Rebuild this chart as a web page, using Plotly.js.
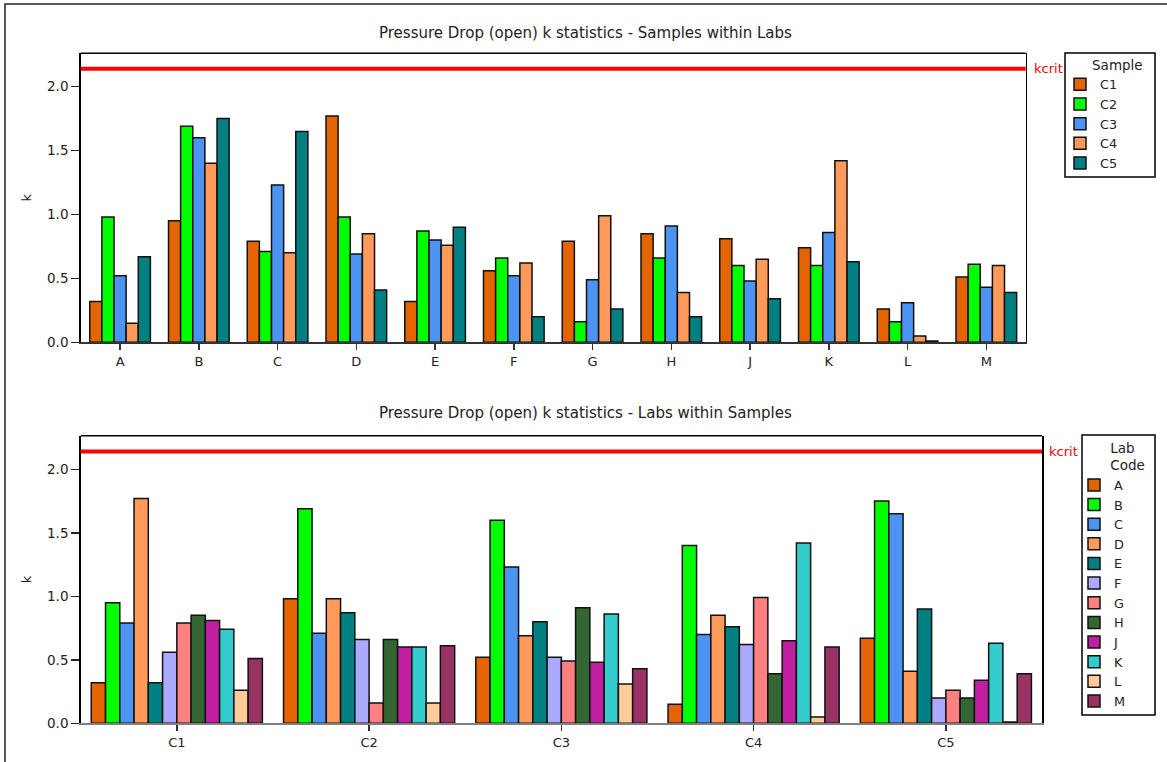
<!DOCTYPE html>
<html><head><meta charset="utf-8">
<script src="https://cdn.plot.ly/plotly-3.0.1.min.js"></script>
<style>body{margin:0;background:#fff}</style>
</head><body><div id="chart" style="width:1167px;height:762px"></div>
<script>
const labs = ['A','B','C','D','E','F','G','H','J','K','L','M'];
const samples = ['C1','C2','C3','C4','C5'];
const kC1 = [0.32,0.95,0.79,1.77,0.32,0.56,0.79,0.85,0.81,0.74,0.26,0.51];
const kC2 = [0.98,1.69,0.71,0.98,0.87,0.66,0.16,0.66,0.60,0.60,0.16,0.61];
const kC3 = [0.52,1.60,1.23,0.69,0.80,0.52,0.49,0.91,0.48,0.86,0.31,0.43];
const kC4 = [0.15,1.40,0.70,0.85,0.76,0.62,0.99,0.39,0.65,1.42,0.05,0.60];
const kC5 = [0.67,1.75,1.65,0.41,0.90,0.20,0.26,0.20,0.34,0.63,0.01,0.39];
const kcrit = 2.14;
const yTicks = [0, 0.5, 1.0, 1.5, 2.0];
const titleTop = 'Pressure Drop (open) k statistics - Samples within Labs';
const titleBottom = 'Pressure Drop (open) k statistics - Labs within Samples';
const legendTitleTop = 'Sample';
const legendTitleBottom = ['Lab','Code'];

const labColors = ['#E36400','#00FF00','#4D94F2','#FF9A5A','#008080','#AAAAFF','#FF8080','#336633','#C020A0','#33CCCC','#FFCC99','#993366'];
const sampleColors = labColors.slice(0,5);
const sampleVals = [kC1,kC2,kC3,kC4,kC5];

const FONT = 'DejaVu Sans, Verdana, sans-serif';
const traces = [];
const gTop = 0.77, gBot = 0.89;
samples.forEach((s,i)=>{
  const w = gTop/samples.length;
  traces.push({type:'bar', x:labs, y:sampleVals[i], name:s, xaxis:'x', yaxis:'y', legend:'legend',
    width:w, offset:-gTop/2 + i*w,
    marker:{color:sampleColors[i], line:{color:'#111', width:1.5}}});
});
labs.forEach((l,j)=>{
  const w = gBot/labs.length;
  traces.push({type:'bar', x:samples, y:sampleVals.map(a=>a[j]), name:l, xaxis:'x2', yaxis:'y2', legend:'legend2',
    width:w, offset:-gBot/2 + j*w,
    marker:{color:labColors[j], line:{color:'#111', width:1.5}}});
});

const W=1167, H=762;
const px = v=>v/W, py = v=>1-v/H;
const nb = n=>'\u00a0'.repeat(n);
const xCommon = {type:'category', showline:true, ticks:'outside', ticklen:6, tickwidth:1.5, tickcolor:'#333',
  tickfont:{size:13,color:'#222'}, showgrid:false, zeroline:false, fixedrange:true};
const yCommon = {showline:true, mirror:true, linecolor:'#000', linewidth:1.5, ticks:'outside', ticklen:8, tickwidth:1.5,
  tickcolor:'#222', tickvals:yTicks, tickformat:'.1f', tickfont:{size:13.5,color:'#222'}, showgrid:false, zeroline:false,
  title:{text:'k', font:{size:13,color:'#222'}, standoff:12}, fixedrange:true};

const layout = {
  width:W, height:H, autosize:false, margin:{l:0,r:0,t:0,b:0},
  paper_bgcolor:'#fff', plot_bgcolor:'#fff', font:{family:FONT, color:'#222'},
  barmode:'overlay',
  xaxis:Object.assign({}, xCommon, {domain:[px(80.7),px(1025.7)], range:[-0.5,11.5], anchor:'y', linecolor:'#333', linewidth:2}),
  yaxis:Object.assign({}, yCommon, {domain:[py(342.3),py(53.3)], range:[0,2.261], anchor:'x'}),
  xaxis2:Object.assign({}, xCommon, {domain:[px(80.7),px(1042)], range:[-0.5,4.5], anchor:'y2', linecolor:'#808080', linewidth:2}),
  yaxis2:Object.assign({}, yCommon, {domain:[py(723.3),py(435.7)], range:[0,2.265], anchor:'x2'}),
  legend:{x:px(1060), y:py(52), xanchor:'left', yanchor:'top', borderwidth:0, bgcolor:'rgba(0,0,0,0)',
    font:{size:12.8,color:'#222'}, title:{text:nb(7)+legendTitleTop, font:{size:13.5,color:'#222'}}},
  legend2:{x:px(1074), y:py(435), xanchor:'left', yanchor:'top', borderwidth:0, bgcolor:'rgba(0,0,0,0)',
    font:{size:12.8,color:'#222'}, title:{text:nb(8)+legendTitleBottom[0]+'<br>'+nb(8)+legendTitleBottom[1], font:{size:13.5,color:'#222'}}},
  shapes:[
    {type:'line', xref:'x domain', yref:'y domain', x0:0, x1:1, y0:1, y1:1, line:{color:'#000', width:1.5}},
    {type:'line', xref:'x2 domain', yref:'y2 domain', x0:0, x1:1, y0:1, y1:1, line:{color:'#000', width:1.5}},
    {type:'line', xref:'x domain', yref:'y', x0:0, x1:1, y0:kcrit, y1:kcrit, line:{color:'#FF0000', width:4}},
    {type:'line', xref:'x2 domain', yref:'y2', x0:0, x1:1, y0:kcrit, y1:kcrit, line:{color:'#FF0000', width:4}},
    {type:'rect', xref:'paper', yref:'paper', x0:px(5), x1:1.02, y0:-0.02, y1:py(4), line:{color:'#222', width:1.5}},
    {type:'rect', xref:'paper', yref:'paper', x0:px(1065), x1:px(1155), y0:py(177), y1:py(53), line:{color:'#000', width:1.5}},
    {type:'rect', xref:'paper', yref:'paper', x0:px(1082), x1:px(1155), y0:py(715), y1:py(435), line:{color:'#000', width:1.5}}
  ],
  annotations:[
    {text:titleTop, xref:'paper', yref:'paper', x:px(585), y:py(33), xanchor:'center', yanchor:'middle', showarrow:false, font:{size:15,color:'#222'}},
    {text:titleBottom, xref:'paper', yref:'paper', x:px(585), y:py(413), xanchor:'center', yanchor:'middle', showarrow:false, font:{size:15,color:'#222'}},
    {text:'kcrit', xref:'paper', yref:'y', x:px(1032), y:kcrit, xanchor:'left', yanchor:'middle', showarrow:false, font:{size:13,color:'#FF0000'}},
    {text:'kcrit', xref:'paper', yref:'y2', x:px(1047), y:kcrit, xanchor:'left', yanchor:'middle', showarrow:false, font:{size:13,color:'#FF0000'}}
  ]
};
Plotly.newPlot('chart', traces, layout, {displayModeBar:false, staticPlot:true});
</script></body></html>
